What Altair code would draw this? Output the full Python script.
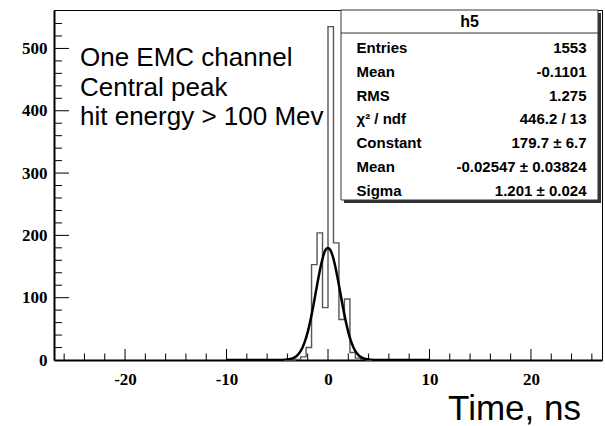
import altair as alt
import pandas as pd

# ---------------- data ----------------
bin_left = [-4.32, -3.78, -3.24, -2.70, -2.16, -1.62, -1.08, -0.54, 0.00,
            0.54, 1.08, 1.62, 2.16, 2.70, 3.24, 3.78, 4.32]
bin_count = [0, 0, 1, 5, 20, 153, 204, 84, 535, 188, 65, 98, 12, 3, 1, 0, 0]

fit_x = [-10, -6, -5, -4.5, -4, -3.5, -3.25, -3, -2.75, -2.5, -2.25, -2, -1.75,
         -1.5, -1.25, -1, -0.75, -0.5, -0.25, 0, 0.25, 0.5, 0.75, 1, 1.25, 1.5,
         1.75, 2, 2.25, 2.5, 2.75, 3, 3.25, 3.5, 4, 4.5, 5, 6, 10]
fit_y = [0, 0, 0.03, 0.15, 0.7, 2.6, 4.6, 7.9, 13.0, 20.5, 31.0, 44.8, 62.1,
         82.3, 104.5, 127.0, 147.8, 164.8, 176.6, 179.7, 175.8, 164.8, 147.8,
         127.0, 104.5, 82.3, 62.1, 44.8, 31.0, 20.5, 13.0, 7.9, 4.6, 2.6, 0.7,
         0.15, 0.03, 0, 0]

x_major = [-20, -10, 0, 10, 20]
x_minor = [-26, -24, -22, -18, -16, -14, -12, -8, -6, -4, -2,
           2, 4, 6, 8, 12, 14, 16, 18, 22, 24, 26]
y_major = [100, 200, 300, 400, 500]
y_minor = [20, 40, 60, 80, 120, 140, 160, 180, 220, 240, 260, 280, 320, 340,
           360, 380, 420, 440, 460, 480, 520, 540]

stat_title = "h5"
stat_labels = ["Entries", "Mean", "RMS", "χ² / ndf", "Constant", "Mean", "Sigma"]
stat_values = ["1553", "-0.1101", "1.275", "446.2 / 13", "179.7 ± 6.7",
               "-0.02547 ± 0.03824", "1.201 ± 0.024"]
note_lines = ["One EMC channel", "Central peak", "hit energy > 100 Mev"]
x_title = "Time, ns"

# ---------------- chart ----------------
W, H = 548, 350
XDOM = [-27, 27]
YDOM = [0, 561.7]
xs = alt.Scale(domain=XDOM, nice=False, zero=False)
ys = alt.Scale(domain=YDOM, nice=False)

SERIF = "Liberation Serif"
SANS = "Liberation Sans"

hist_df = pd.DataFrame({"x": bin_left, "n": bin_count})
hist = alt.Chart(hist_df).mark_line(
    interpolate="step-after", color="#555555", strokeWidth=1.4
).encode(
    x=alt.X("x:Q", scale=xs,
            axis=alt.Axis(values=x_major, labelExpr="datum.value + ''",
                          ticks=False, grid=False, title=None,
                          labelFont=SERIF, labelFontWeight="bold",
                          labelFontSize=17, labelColor="black",
                          labelPadding=11, domainColor="black", domainWidth=2)),
    y=alt.Y("n:Q", scale=ys,
            axis=alt.Axis(values=[0] + y_major, labelExpr="datum.value + ''",
                          ticks=False, grid=False, title=None,
                          labelFont=SERIF, labelFontWeight="bold",
                          labelFontSize=17, labelColor="black",
                          labelPadding=7, domainColor="black", domainWidth=2)),
)

fit_df = pd.DataFrame({"x": fit_x, "y": fit_y})
fit = alt.Chart(fit_df).mark_line(
    interpolate="monotone", color="black", strokeWidth=2.5, clip=True
).encode(x=alt.X("x:Q", scale=xs), y=alt.Y("y:Q", scale=ys))

# inward ticks
xmaj = alt.Chart(pd.DataFrame({"v": x_major})).mark_rule(color="black", strokeWidth=1).encode(
    x=alt.X("v:Q", scale=xs), y=alt.value(H), y2=alt.value(H - 11))
xmin = alt.Chart(pd.DataFrame({"v": x_minor})).mark_rule(color="black", strokeWidth=1).encode(
    x=alt.X("v:Q", scale=xs), y=alt.value(H), y2=alt.value(H - 6.5))
ymaj = alt.Chart(pd.DataFrame({"v": y_major})).mark_rule(color="black", strokeWidth=1).encode(
    y=alt.Y("v:Q", scale=ys), x=alt.value(0), x2=alt.value(15))
ymin = alt.Chart(pd.DataFrame({"v": y_minor})).mark_rule(color="black", strokeWidth=1).encode(
    y=alt.Y("v:Q", scale=ys), x=alt.value(0), x2=alt.value(8))

one = pd.DataFrame({"a": [1]})
BX0, BX1, BY0, BY1 = 287, 544, 0, 190
shadow = alt.Chart(one).mark_rect(color="#333333").encode(
    x=alt.value(BX0 + 3), x2=alt.value(BX1 + 3), y=alt.value(BY0 + 3), y2=alt.value(BY1 + 3))
box = alt.Chart(one).mark_rect(fill="white", stroke="#333333", strokeWidth=1).encode(
    x=alt.value(BX0), x2=alt.value(BX1), y=alt.value(BY0), y2=alt.value(BY1))
sep = alt.Chart(one).mark_rule(color="#333333", strokeWidth=1).encode(
    x=alt.value(BX0), x2=alt.value(BX1), y=alt.value(23))

layers = [hist, fit, xmaj, xmin, ymaj, ymin, shadow, box, sep]

layers.append(alt.Chart(pd.DataFrame({"t": [stat_title]})).mark_text(
    font=SANS, fontWeight="bold", fontSize=16, align="center", baseline="middle", color="black"
).encode(x=alt.value((BX0 + BX1) / 2), y=alt.value(12), text="t:N"))

for i, (lab, val) in enumerate(zip(stat_labels, stat_values)):
    yy = 38.3 + i * 23.7
    layers.append(alt.Chart(pd.DataFrame({"t": [lab]})).mark_text(
        font=SANS, fontWeight="bold", fontSize=15, align="left", baseline="middle", color="black"
    ).encode(x=alt.value(302.5), y=alt.value(yy), text="t:N"))
    layers.append(alt.Chart(pd.DataFrame({"t": [val]})).mark_text(
        font=SANS, fontWeight="bold", fontSize=15, align="right", baseline="middle", color="black"
    ).encode(x=alt.value(532.5), y=alt.value(yy), text="t:N"))

for i, line in enumerate(note_lines):
    layers.append(alt.Chart(pd.DataFrame({"t": [line]})).mark_text(
        font=SANS, fontSize=26, align="left", baseline="alphabetic", color="black"
    ).encode(x=alt.value(26), y=alt.value(56 + i * 29.5), text="t:N"))

layers.append(alt.Chart(pd.DataFrame({"t": [x_title]})).mark_text(
    font=SANS, fontSize=35, align="right", baseline="alphabetic", color="black"
).encode(x=alt.value(527), y=alt.value(410), text="t:N"))

chart = alt.layer(*layers).properties(
    width=W, height=H,
    padding={"left": 54, "top": 10, "right": 3, "bottom": 66},
    autosize=alt.AutoSizeParams(type="none"),
    background="white",
).configure_view(stroke="black", strokeWidth=1)

chart.save("out.html", embed_options={"renderer": "svg", "actions": False})
